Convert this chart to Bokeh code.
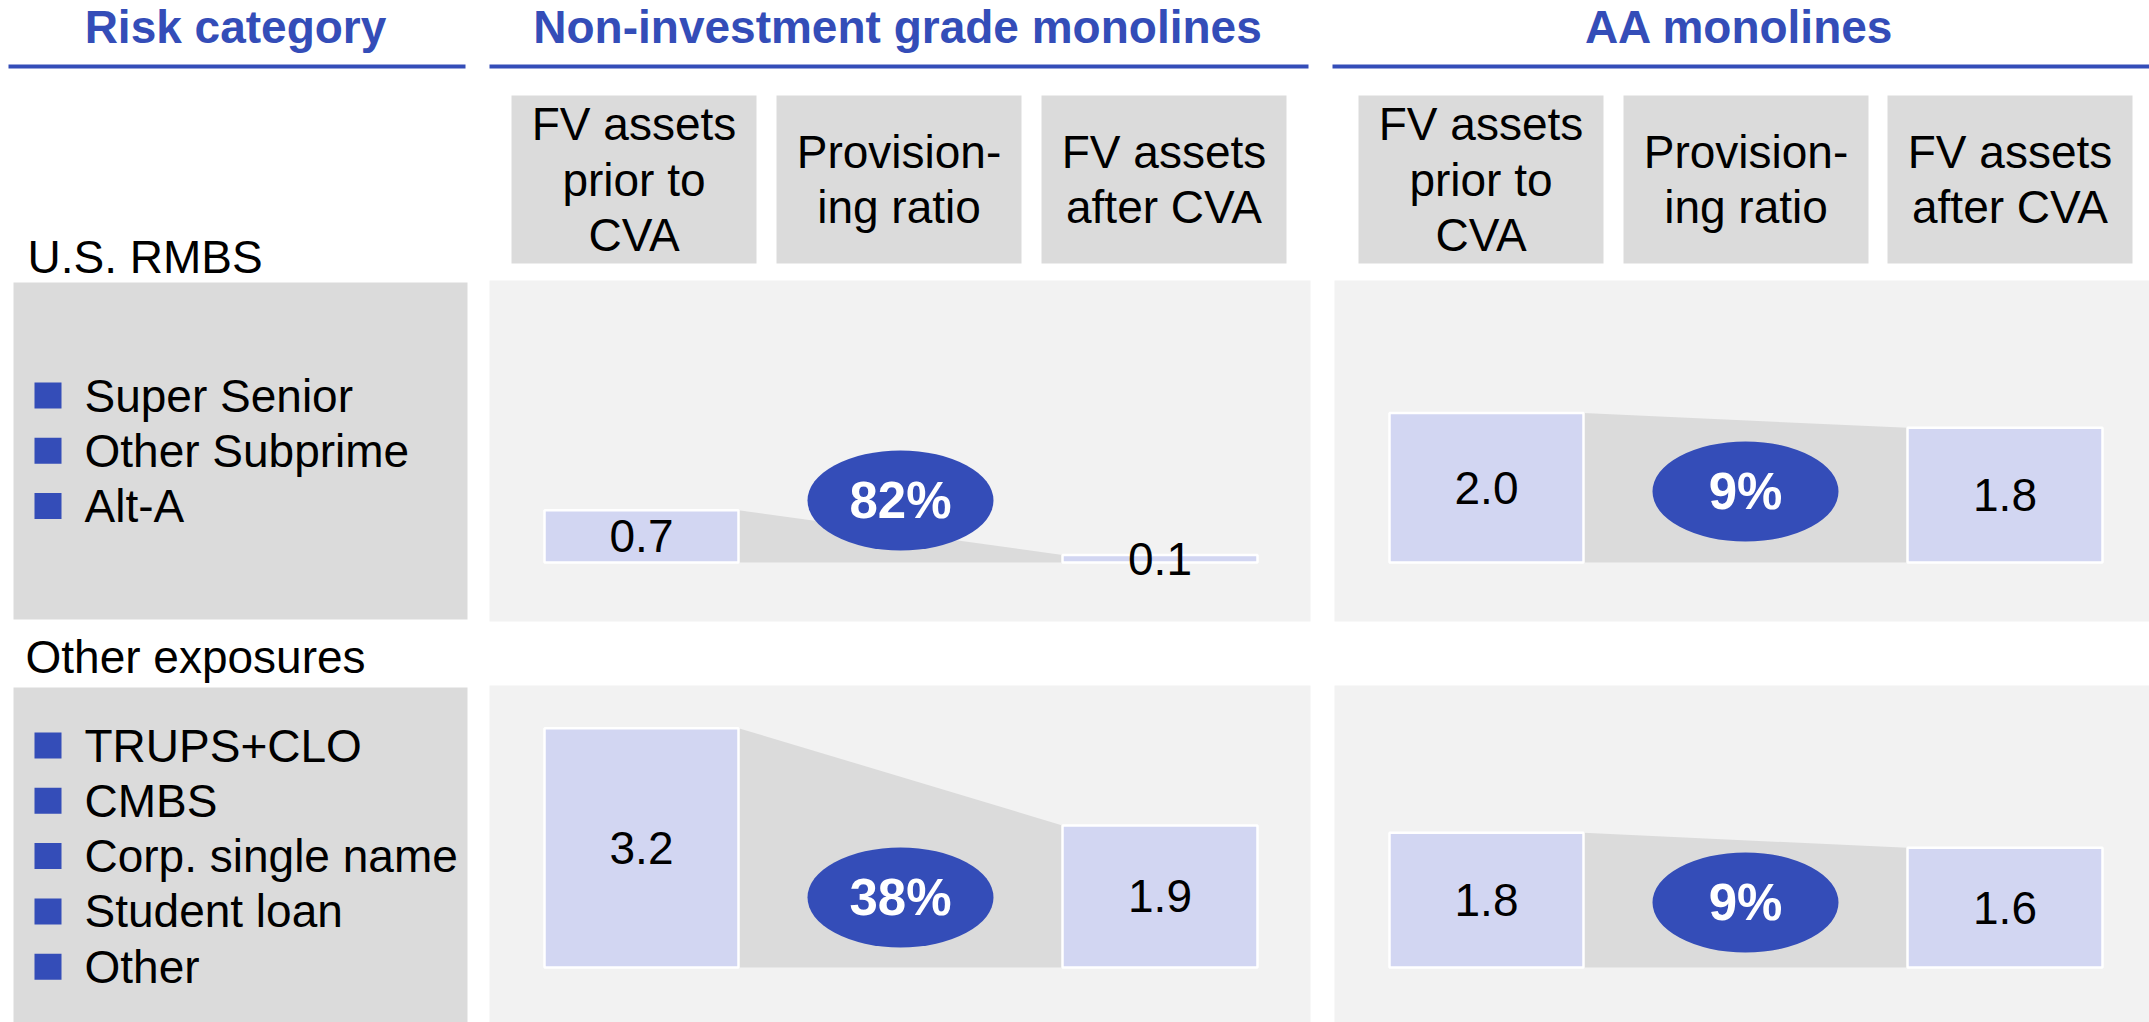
from bokeh.plotting import figure
from bokeh.models import Range1d
from bokeh.embed import file_html
from bokeh.resources import INLINE
from bokeh.core.properties import value

# ---------------- data ----------------
column_titles = ["Risk category", "Non-investment grade monolines", "AA monolines"]
sub_headers = [["FV assets", "prior to", "CVA"], ["Provision-", "ing ratio"], ["FV assets", "after CVA"]]
categories = ["U.S. RMBS", "Other exposures"]
rmbs_items = ["Super Senior", "Other Subprime", "Alt-A"]
other_items = ["TRUPS+CLO", "CMBS", "Corp. single name", "Student loan", "Other"]
nig_prior = [0.7, 3.2]
nig_ratio = [82, 38]
nig_after = [0.1, 1.9]
aa_prior = [2.0, 1.8]
aa_ratio = [9, 9]
aa_after = [1.8, 1.6]

# ---------------- styling / layout ----------------
W, H = 2149, 1022
BLUE = "#344DB8"
BAR = "#D2D6F2"
DARK = "#DBDBDB"
LIGHT = "#F2F2F2"
FONT = value("Liberation Sans")
K = 74.8  # pixels per bn

p = figure(width=W, height=H, x_range=Range1d(0, W), y_range=Range1d(H, 0),
           x_axis_type=None, y_axis_type=None, toolbar_location=None,
           output_backend="svg", min_border=0)
p.outline_line_color = None
p.background_fill_color = "white"
p.border_fill_color = "white"

row_base = [562, 967]
p.extra_y_ranges = {
    "r%d" % i: Range1d(-(H - b) / K, b / K) for i, b in enumerate(row_base)
}

# header titles and lines
title_x = [235, 897, 1739]
p.text(x=title_x, y=[26] * 3, text=column_titles, text_font=FONT, text_font_size="46px",
       text_font_style="bold", text_color=BLUE, text_align="center", text_baseline="middle")
p.quad(left=[8, 489, 1332], right=[465, 1308, 2149], top=[64] * 3, bottom=[68] * 3,
       fill_color=BLUE, line_color=None)

# sub-header boxes
box_left = [[511, 776, 1041], [1358, 1623, 1887]]
BOXW = 245
for g in range(2):
    p.quad(left=box_left[g], right=[b + BOXW for b in box_left[g]], top=[95] * 3, bottom=[263] * 3,
           fill_color=DARK, line_color=None)
    xs, ys, ts = [], [], []
    for j, lines in enumerate(sub_headers):
        n = len(lines)
        for i, t in enumerate(lines):
            xs.append(box_left[g][j] + BOXW / 2)
            ys.append(179 + (i - (n - 1) / 2) * 55.5)
            ts.append(t)
    p.text(x=xs, y=ys, text=ts, text_font=FONT, text_font_size="46px", text_color="black",
           text_align="center", text_baseline="middle")

# category labels
p.text(x=[27, 25], y=[256, 656], text=categories, text_font=FONT, text_font_size="46px",
       text_color="black", text_baseline="middle")

# row panels
row_top = [280, 685]
row_bot = [621, 1022]
p.quad(left=[13, 13], right=[467, 467], top=[282, 687], bottom=[619, 1022], fill_color=DARK, line_color=None)
panel_x = [489, 1334]
panel_r = [1310, 2149]
for r in range(2):
    p.quad(left=panel_x, right=panel_r, top=[row_top[r]] * 2, bottom=[row_bot[r]] * 2,
           fill_color=LIGHT, line_color=None)

# legends
for items, first in ((rmbs_items, 395), (other_items, 745)):
    ys = [first + 55.3 * i for i in range(len(items))]
    p.quad(left=[34] * len(items), right=[61] * len(items),
           top=[y - 13 for y in ys], bottom=[y + 13 for y in ys],
           fill_color=BLUE, line_color=None)
    p.text(x=[84] * len(items), y=ys, text=items, text_font=FONT, text_font_size="46px",
           text_color="black", text_baseline="middle")

# bars
groups = [(nig_prior, nig_ratio, nig_after), (aa_prior, aa_ratio, aa_after)]
ell_y = [[500, 897], [491, 902]]
for g, (prior, ratio, after) in enumerate(groups):
    x0 = panel_x[g]
    b1l, b1r = x0 + 55, x0 + 249
    b3l, b3r = x0 + 573, x0 + 768
    for r in range(2):
        rn = "r%d" % r
        p.patch(x=[b1r, b1r, b3l, b3l], y=[0, prior[r], after[r], 0], fill_color=DARK,
                line_color=None, y_range_name=rn)
        p.quad(left=[b1l, b3l], right=[b1r, b3r], bottom=[0, 0], top=[prior[r], after[r]],
               fill_color=BAR, line_color="white", line_width=2.5, y_range_name=rn)
        p.text(x=[(b1l + b1r) / 2, (b3l + b3r) / 2], y=[prior[r] / 2, after[r] / 2],
               text=["%.1f" % prior[r], "%.1f" % after[r]], text_font=FONT, text_font_size="46px",
               text_color="black", text_align="center", text_baseline="middle", y_range_name=rn)
        cx = (b1r + b3l) / 2
        p.ellipse(x=[cx], y=[ell_y[g][r]], width=186, height=100, fill_color=BLUE, line_color=None)
        p.text(x=[cx], y=[ell_y[g][r]], text=["%d%%" % ratio[r]], text_font=FONT,
               text_font_size="51px", text_font_style="bold", text_color="white",
               text_align="center", text_baseline="middle")

open("out.html", "w").write(file_html(p, INLINE))
